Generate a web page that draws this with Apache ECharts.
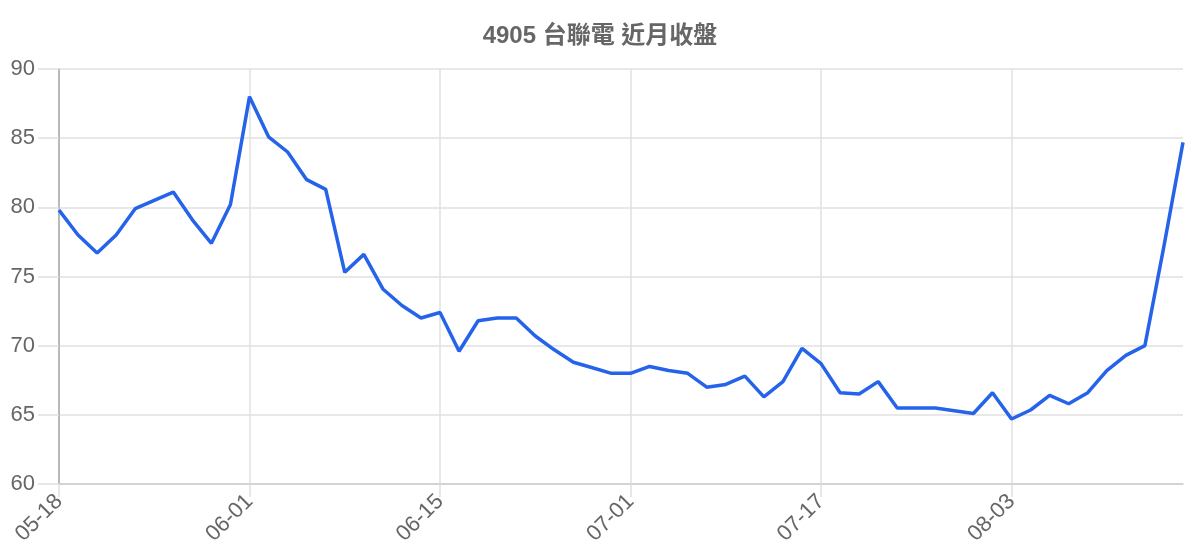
<!DOCTYPE html>
<html>
<head>
<meta charset="utf-8">
<script src="https://cdn.jsdelivr.net/npm/echarts@6/dist/echarts.min.js"></script>
<style>
html,body{margin:0;padding:0;background:#fff;}
#chart{width:1200px;height:560px;}
</style>
</head>
<body>
<div id="chart"></div>
<script>
const titleText = '4905 台聯電 近月收盤';
const dates = [
  '05-18','05-19','05-20','05-21','05-22','05-25','05-26','05-27','05-28','05-29',
  '06-01','06-02','06-03','06-04','06-05','06-08','06-09','06-10','06-11','06-12',
  '06-15','06-16','06-17','06-18','06-19','06-22','06-23','06-24','06-29','06-30',
  '07-01','07-02','07-03','07-06','07-07','07-08','07-09','07-10','07-13','07-15',
  '07-17','07-20','07-21','07-22','07-23','07-24','07-27','07-28','07-29','07-31',
  '08-03','08-04','08-05','08-06','08-07','08-10','08-11','08-12','08-13','08-14'
];
const closes = [
  79.8, 78.0, 76.7, 78.0, 79.9, 80.5, 81.1, 79.1, 77.4, 80.2,
  88.0, 85.1, 84.0, 82.0, 81.3, 75.3, 76.6, 74.1, 72.9, 72.0,
  72.4, 69.6, 71.8, 72.0, 72.0, 70.7, 69.7, 68.8, 68.4, 68.0,
  68.0, 68.5, 68.2, 68.0, 67.0, 67.2, 67.8, 66.3, 67.4, 69.8,
  68.7, 66.6, 66.5, 67.4, 65.5, 65.5, 65.5, 65.3, 65.1, 66.6,
  64.7, 65.35, 66.4, 65.8, 66.6, 68.2, 69.3, 70.0, 77.2, 84.7
];
const yTicks = [60, 65, 70, 75, 80, 85, 90];

const chart = echarts.init(document.getElementById('chart'));
chart.setOption({
  animation: false,
  title: {
    text: titleText,
    left: 'center',
    top: 19,
    textStyle: { fontSize: 24, fontWeight: 'bold', color: '#666', fontFamily: 'Liberation Sans, Noto Sans CJK TC, sans-serif' }
  },
  grid: { left: 59, right: 17, top: 69, bottom: 76, containLabel: false },
  xAxis: {
    type: 'category',
    data: dates,
    boundaryGap: false,
    axisLine: { show: true, lineStyle: { color: '#cccccc', width: 1.5 } },
    axisTick: { show: true, interval: 9, length: 13, lineStyle: { color: '#e0e0e0', width: 1.5 } },
    axisLabel: {
      interval: 9, rotate: 45, margin: 14, fontSize: 22, color: '#666',
      fontFamily: 'Liberation Sans, sans-serif'
    },
    splitLine: { show: true, interval: 9, lineStyle: { color: '#e0e0e0', width: 1.5 } }
  },
  yAxis: {
    type: 'value',
    min: yTicks[0],
    max: yTicks[yTicks.length - 1],
    interval: 5,
    axisLine: { show: true, lineStyle: { color: '#aaaaaa', width: 1.5 } },
    axisTick: { show: true, length: 21, lineStyle: { color: '#e0e0e0', width: 1.5 } },
    axisLabel: { fontSize: 22, color: '#666', margin: 24, fontFamily: 'Liberation Sans, sans-serif' },
    splitLine: { show: true, lineStyle: { color: '#e0e0e0', width: 1.5 } }
  },
  series: [{
    type: 'line',
    data: closes,
    showSymbol: false,
    symbol: 'none',
    lineStyle: { color: '#2563eb', width: 3.5 },
    itemStyle: { color: '#2563eb' }
  }]
});
</script>
</body>
</html>
